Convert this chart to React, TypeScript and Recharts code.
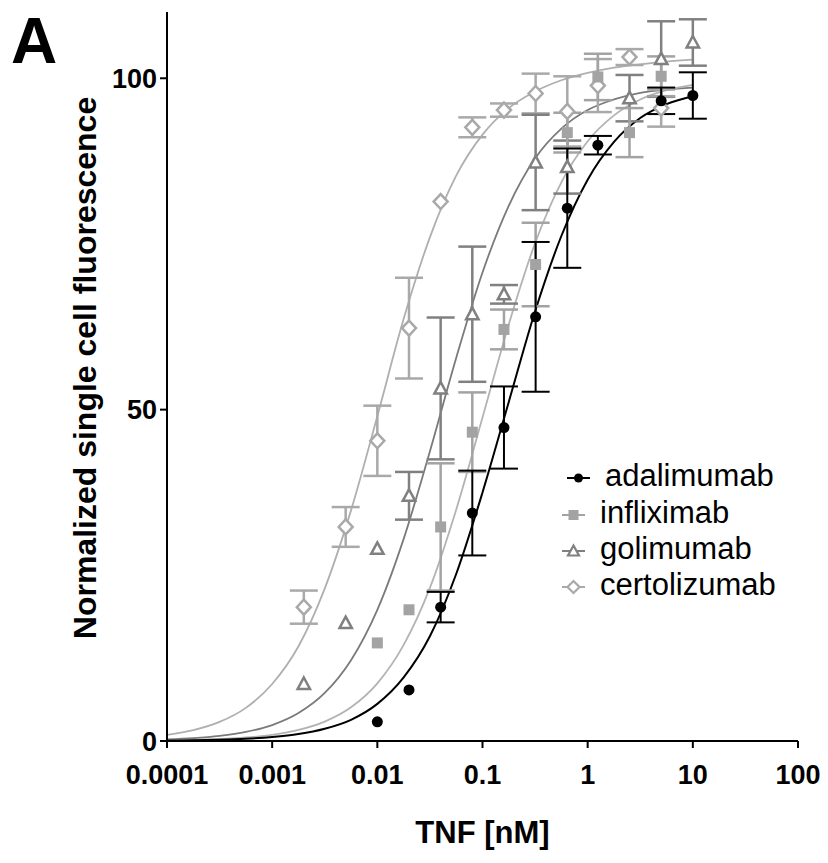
import React from 'react';
import { ComposedChart, Line, Scatter, XAxis, YAxis, ErrorBar, Legend } from 'recharts';

// ---------- tick labels ----------
const X_TICKS = [0.0001, 0.001, 0.01, 0.1, 1, 10, 100];
const X_TICK_LABELS = ['0.0001', '0.001', '0.01', '0.1', '1', '10', '100'];
const Y_TICKS = [0, 50, 100];

// ---------- fitted curves ----------
const CURVE_X = [
  0.0001, 0.000178, 0.000316, 0.000562, 0.001, 0.00178, 0.00316, 0.00562, 0.01, 0.0178, 0.0316,
  0.0562, 0.1, 0.178, 0.316, 0.562, 1, 1.78, 3.16, 5.62, 10,
];
const ADA_CURVE = [0.06, 0.1, 0.18, 0.33, 0.6, 1.05, 1.85, 3.2, 5.6, 9.6, 15.8, 25.2, 37.5, 51.2, 64.8, 76.2, 84.7, 90.4, 94.0, 96.1, 97.3];
const INF_CURVE = [0.1, 0.17, 0.3, 0.53, 0.94, 1.67, 2.92, 5.08, 8.7, 14.5, 23.1, 34.9, 48.8, 62.9, 75.1, 84.3, 90.5, 94.4, 96.8, 98.2, 99.0];
const GOL_CURVE = [0.25, 0.44, 0.78, 1.37, 2.41, 4.22, 7.25, 12.2, 19.8, 30.5, 43.7, 57.8, 70.7, 80.8, 87.9, 92.4, 95.2, 96.8, 97.8, 98.3, 98.6];
const CER_CURVE = [0.93, 1.64, 2.88, 5.0, 8.6, 14.3, 23.0, 34.8, 49.0, 63.7, 76.0, 85.3, 91.5, 95.5, 98.0, 99.7, 100.8, 101.6, 102.1, 102.5, 102.8];

// ---------- measured points ----------
const ADA_X = [0.01, 0.02, 0.04, 0.08, 0.16, 0.32, 0.64, 1.25, 5, 10];
const ADA_Y = [2.9, 7.7, 20.2, 34.4, 47.3, 64.0, 80.4, 89.9, 96.6, 97.4];
const ADA_ERR = [null, null, 2.3, 6.4, 6.2, 11.3, 9.0, 1.4, 2.0, 3.5];

const INF_X = [0.01, 0.02, 0.04, 0.08, 0.16, 0.32, 0.64, 1.25, 2.5, 5];
const INF_Y = [14.8, 19.8, 32.3, 46.6, 62.1, 71.9, 91.8, 100.2, 91.8, 100.3];
const INF_ERR = [null, null, 9.6, 6.0, 3.0, 6.3, 3.0, 3.5, 3.7, 3.0];

const GOL_X = [0.002, 0.005, 0.01, 0.02, 0.04, 0.08, 0.16, 0.32, 0.64, 2.5, 5, 10];
const GOL_Y = [8.6, 17.8, 29.0, 37.0, 53.2, 64.4, 67.4, 87.3, 86.6, 97.0, 102.9, 105.4];
const GOL_ERR = [null, null, null, 3.6, 10.7, 10.2, 1.4, 7.2, 4.0, 3.5, 5.7, 3.5];

const CER_X = [0.002, 0.005, 0.01, 0.02, 0.04, 0.08, 0.16, 0.32, 0.64, 1.25, 2.5, 5];
const CER_Y = [20.2, 32.3, 45.3, 62.3, 81.4, 92.6, 95.2, 97.7, 95.0, 98.9, 103.2, 95.5];
const CER_ERR = [2.5, 3.0, 5.3, 7.6, null, 1.5, 1.0, 3.0, 5.3, 4.0, 1.2, 2.8];

const SERIES_NAMES = ['adalimumab', 'infliximab', 'golimumab', 'certolizumab'];

// ---------- styles ----------
const FONT = "'Liberation Sans', Arial, Helvetica, sans-serif";
const ADA_COLOR = '#000000';
const INF_COLOR = '#a3a3a3';
const GOL_COLOR = '#808080';
const CER_COLOR = '#a9a9a9';
const INF_LINE = '#b3b3b3';
const GOL_LINE = '#7a7a7a';
const CER_LINE = '#afafaf';

const curve = (ys: number[]) => CURVE_X.map((x, i) => ({ x, y: ys[i] }));
const points = (xs: number[], ys: number[], errs: (number | null)[]) =>
  xs.map((x, i) => ({ x, y: ys[i], err: errs[i] }));

const CircleShape = (p: any) => <circle cx={p.cx} cy={p.cy} r={5.5} fill={ADA_COLOR} />;
const SquareShape = (p: any) => (
  <rect x={p.cx - 5.5} y={p.cy - 5.5} width={11} height={11} fill={INF_COLOR} />
);
const TriangleShape = (p: any) => (
  <polygon
    points={`${p.cx},${p.cy - 6.5} ${p.cx + 6.2},${p.cy + 5} ${p.cx - 6.2},${p.cy + 5}`}
    fill="#fff"
    stroke={GOL_COLOR}
    strokeWidth={2.5}
    strokeLinejoin="miter"
  />
);
const DiamondShape = (p: any) => (
  <polygon
    points={`${p.cx},${p.cy - 7.5} ${p.cx + 7},${p.cy} ${p.cx},${p.cy + 7.5} ${p.cx - 7},${p.cy}`}
    fill="#fff"
    stroke={CER_COLOR}
    strokeWidth={2.5}
  />
);

const LegendContent = () => {
  const rows = [
    { name: SERIES_NAMES[0], color: ADA_COLOR, x1: 17, x2: 40, tx: 55, y: 23, kind: 'circle' },
    { name: SERIES_NAMES[1], color: INF_COLOR, x1: 12, x2: 35, tx: 50, y: 60, kind: 'square' },
    { name: SERIES_NAMES[2], color: GOL_COLOR, x1: 12, x2: 35, tx: 50, y: 96, kind: 'triangle' },
    { name: SERIES_NAMES[3], color: CER_COLOR, x1: 12, x2: 35, tx: 50, y: 132, kind: 'diamond' },
  ];
  return (
    <svg width={270} height={150} style={{ display: 'block' }}>
      {rows.map((r) => {
        const cx = (r.x1 + r.x2) / 2;
        let m: React.ReactNode = null;
        if (r.kind === 'circle') m = <circle cx={cx} cy={r.y} r={4.5} fill={r.color} />;
        if (r.kind === 'square') m = <rect x={cx - 5} y={r.y - 5} width={10} height={10} fill={r.color} />;
        if (r.kind === 'triangle')
          m = (
            <polygon
              points={`${cx},${r.y - 5.5} ${cx + 5.5},${r.y + 4.5} ${cx - 5.5},${r.y + 4.5}`}
              fill="#fff"
              stroke={r.color}
              strokeWidth={2.2}
            />
          );
        if (r.kind === 'diamond')
          m = (
            <polygon
              points={`${cx},${r.y - 6} ${cx + 6},${r.y} ${cx},${r.y + 6} ${cx - 6},${r.y}`}
              fill="#fff"
              stroke={r.color}
              strokeWidth={2.2}
            />
          );
        return (
          <g key={r.name}>
            <line x1={r.x1} x2={r.x2} y1={r.y} y2={r.y} stroke={r.color} strokeWidth={2} />
            {m}
            <text x={r.tx} y={r.y + 8} fontFamily={FONT} fontSize={31} fill="#000">
              {r.name}
            </text>
          </g>
        );
      })}
    </svg>
  );
};

const YLabel = () => (
  <text
    transform="translate(96,368) rotate(-90)"
    textAnchor="middle"
    fontFamily={FONT}
    fontSize={32}
    fontWeight="bold"
    fill="#000"
  >
    Normalized single cell fluorescence
  </text>
);

const XLabel = (props: any) => {
  const vb = props.viewBox || {};
  return (
    <text
      x={vb.x + vb.width / 2}
      y={843}
      textAnchor="middle"
      fontFamily={FONT}
      fontSize={31}
      fontWeight="bold"
      fill="#000"
    >
      TNF [nM]
    </text>
  );
};

const tickStyle = { fill: '#000', fontSize: 27, fontWeight: 'bold', fontFamily: FONT };

export default function App() {
  return (
    <div style={{ position: 'absolute', left: 0, top: 0, width: 828, height: 863, background: '#fff' }}>
      <div
        style={{
          position: 'absolute',
          left: 11,
          top: 9,
          fontFamily: FONT,
          fontWeight: 'bold',
          fontSize: 64,
          lineHeight: 1,
          color: '#000',
          zIndex: 2,
        }}
      >
        A
      </div>
      <ComposedChart width={828} height={863} margin={{ top: 12, right: 30, left: 67, bottom: 12 }}>
        <XAxis
          type="number"
          dataKey="x"
          scale="log"
          domain={[0.0001, 100]}
          allowDataOverflow
          ticks={X_TICKS}
          tickFormatter={(v: number) => X_TICK_LABELS[X_TICKS.findIndex((t) => Math.abs(Math.log10(t) - Math.log10(v)) < 1e-6)] ?? String(v)}
          height={110}
          tickSize={7}
          tickMargin={17}
          interval={0}
          axisLine={{ stroke: '#000', strokeWidth: 2 }}
          tickLine={{ stroke: '#000', strokeWidth: 2 }}
          tick={tickStyle}
          label={<XLabel />}
        />
        <YAxis
          type="number"
          dataKey="y"
          domain={[0, 110]}
          allowDataOverflow
          ticks={Y_TICKS}
          width={100}
          tickSize={7}
          tickMargin={3}
          interval={0}
          axisLine={{ stroke: '#000', strokeWidth: 2 }}
          tickLine={{ stroke: '#000', strokeWidth: 2 }}
          tick={tickStyle}
          label={<YLabel />}
        />
        <Legend
          layout="horizontal"
          verticalAlign="middle"
          align="center"
          content={<LegendContent />}
          wrapperStyle={{ position: 'absolute', left: 550, top: 455, width: 270, height: 150 }}
        />

        <Line data={curve(CER_CURVE)} dataKey="y" type="monotone" dot={false} stroke={CER_LINE} strokeWidth={1.8} isAnimationActive={false} />
        <Line data={curve(GOL_CURVE)} dataKey="y" type="monotone" dot={false} stroke={GOL_LINE} strokeWidth={1.8} isAnimationActive={false} />
        <Line data={curve(INF_CURVE)} dataKey="y" type="monotone" dot={false} stroke={INF_LINE} strokeWidth={1.8} isAnimationActive={false} />
        <Line data={curve(ADA_CURVE)} dataKey="y" type="monotone" dot={false} stroke={ADA_COLOR} strokeWidth={2} isAnimationActive={false} />

        <Scatter data={points(CER_X, CER_Y, CER_ERR)} dataKey="y" shape={DiamondShape} isAnimationActive={false}>
          <ErrorBar dataKey="err" direction="y" width={14} stroke={CER_COLOR} strokeWidth={2.5} />
        </Scatter>
        <Scatter data={points(GOL_X, GOL_Y, GOL_ERR)} dataKey="y" shape={TriangleShape} isAnimationActive={false}>
          <ErrorBar dataKey="err" direction="y" width={14} stroke={GOL_COLOR} strokeWidth={2.5} />
        </Scatter>
        <Scatter data={points(INF_X, INF_Y, INF_ERR)} dataKey="y" shape={SquareShape} isAnimationActive={false}>
          <ErrorBar dataKey="err" direction="y" width={14} stroke={INF_COLOR} strokeWidth={2.5} />
        </Scatter>
        <Scatter data={points(ADA_X, ADA_Y, ADA_ERR)} dataKey="y" shape={CircleShape} isAnimationActive={false}>
          <ErrorBar dataKey="err" direction="y" width={14} stroke={ADA_COLOR} strokeWidth={2} />
        </Scatter>
      </ComposedChart>
    </div>
  );
}
